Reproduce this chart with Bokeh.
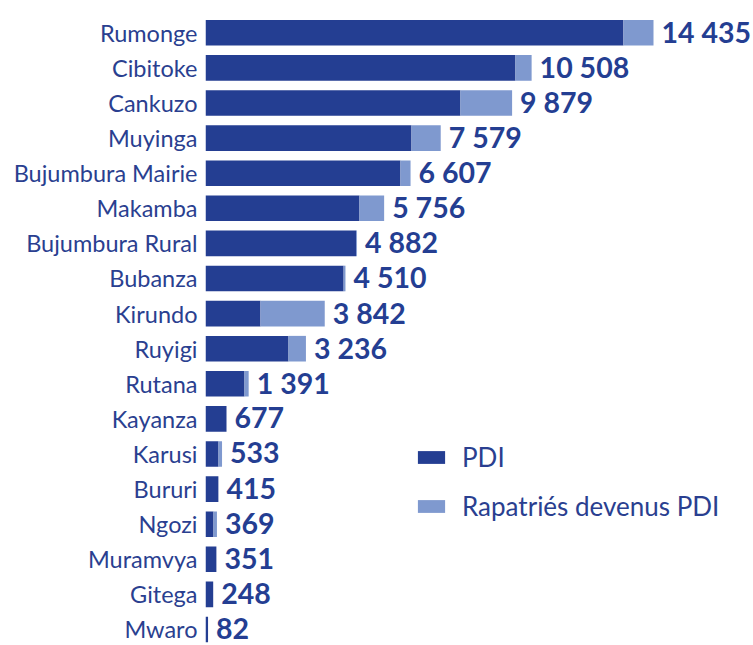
from bokeh.plotting import figure
from bokeh.models import ColumnDataSource, Range1d, Legend, LegendItem, FixedTicker
from bokeh.core.properties import value
from bokeh.embed import file_html
from bokeh.resources import INLINE

provinces = ["Rumonge", "Cibitoke", "Cankuzo", "Muyinga", "Bujumbura Mairie", "Makamba",
             "Bujumbura Rural", "Bubanza", "Kirundo", "Ruyigi", "Rutana", "Kayanza",
             "Karusi", "Bururi", "Ngozi", "Muramvya", "Gitega", "Mwaro"]
totals = [14435, 10508, 9879, 7579, 6607, 5756, 4882, 4510, 3842, 3236, 1391, 677,
          533, 415, 369, 351, 248, 82]
pdi = [13466, 9987, 8215, 6637, 6282, 4961, 4852, 4450, 1772, 2674, 1256, 677,
       419, 415, 258, 351, 248, 82]
rapatries = [t - p for t, p in zip(totals, pdi)]
labels = [f"{t:,}".replace(",", " ") for t in totals]

DARK = "#243e92"
LIGHT = "#7f99cf"
TEXT = "#2a3f90"

n = len(provinces)
ypos = [n - 1 - i for i in range(n)]  # first category at top
src = ColumnDataSource(dict(y=ypos, prov=provinces, pdi=pdi, rap=rapatries, total=totals, lab=labels))

p = figure(width=753, height=645, output_backend="svg", toolbar_location=None,
           y_range=Range1d(-0.456, n - 1 + 0.92),
           x_range=Range1d(0, 17657),
           min_border_left=205, min_border_right=0, min_border_top=0, min_border_bottom=0)

r1 = p.hbar(y="y", left=0, right="pdi", height=0.73, source=src, fill_color=DARK, line_color=None)
r2 = p.hbar(y="y", left="pdi", right="total", height=0.73, source=src, fill_color=LIGHT, line_color=None)
p.text(x="total", y="y", text="lab", source=src, x_offset=8, y_offset=-1, text_baseline="middle",
       text_font=value("Lato"), text_font_style="bold", text_font_size="28.5px", text_color=DARK)

p.xaxis.visible = False
p.xgrid.visible = False
p.ygrid.visible = False
p.outline_line_color = None
p.yaxis.ticker = FixedTicker(ticks=ypos)
p.yaxis.major_label_overrides = {y: name for y, name in zip(ypos, provinces)}
p.yaxis.axis_line_color = None
p.yaxis.major_tick_line_color = None
p.yaxis.minor_tick_line_color = None
p.yaxis.major_tick_out = 0
p.yaxis.major_tick_in = 0
p.yaxis.major_label_standoff = 8
p.yaxis.major_label_text_font = "Lato"
p.yaxis.major_label_text_font_size = "23.5px"
p.yaxis.major_label_text_color = TEXT

legend = Legend(items=[LegendItem(label="PDI", renderers=[r1]),
                       LegendItem(label="Rapatriés devenus PDI", renderers=[r2])],
                location=(209, 123), orientation="vertical",
                glyph_width=34, glyph_height=16, label_standoff=14, spacing=17,
                padding=0, margin=0, border_line_color=None, background_fill_alpha=0,
                label_text_font="Lato", label_text_font_size="26px", label_text_color=TEXT)
p.add_layout(legend)

open("out.html", "w").write(file_html(p, INLINE))
